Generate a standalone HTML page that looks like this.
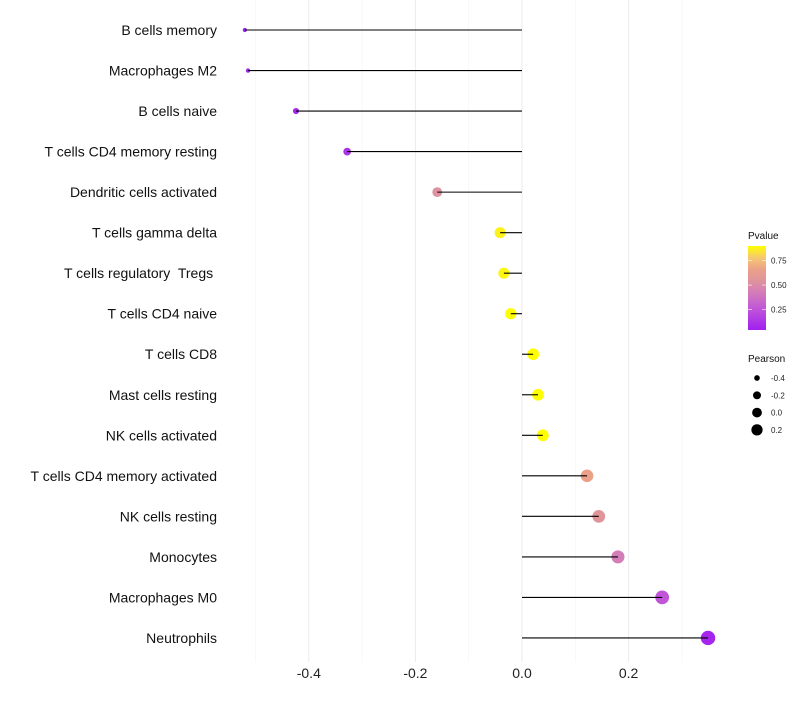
<!DOCTYPE html>
<html><head><meta charset="utf-8"><style>
body{margin:0;background:#fff;font-family:"Liberation Sans",sans-serif}
</style></head><body>
<svg id="c" width="800" height="700" xmlns="http://www.w3.org/2000/svg">
<defs><linearGradient id="pg" x1="0" y1="1" x2="0" y2="0">
<stop offset="0" stop-color="#A020F0"/><stop offset="0.25" stop-color="#C055D8"/><stop offset="0.45" stop-color="#D47DB8"/><stop offset="0.6" stop-color="#E0969A"/><stop offset="0.72" stop-color="#EBA088"/><stop offset="0.86" stop-color="#F5C870"/><stop offset="1" stop-color="#FFFF00"/></linearGradient></defs>
<g id="grid"></g><g id="dots"></g><g id="marks"></g><g id="labels"></g><g id="legend"></g>
</svg>
<script>
const cells=["B cells memory","Macrophages M2","B cells naive","T cells CD4 memory resting","Dendritic cells activated","T cells gamma delta","T cells regulatory  Tregs ","T cells CD4 naive","T cells CD8","Mast cells resting","NK cells activated","T cells CD4 memory activated","NK cells resting","Monocytes","Macrophages M0","Neutrophils"];
const pearson=[-0.52,-0.514,-0.424,-0.328,-0.159,-0.041,-0.034,-0.021,0.021,0.030,0.039,0.122,0.144,0.180,0.263,0.349];
const pvalue=[0.04,0.04,0.06,0.12,0.53,0.87,0.88,0.9,0.9,0.9,0.9,0.66,0.56,0.43,0.255,0.065];
const xticks=[-0.4,-0.2,0.0,0.2];
const xtickLabels=["-0.4","-0.2","0.0","0.2"];
const minorTicks=[-0.5,-0.3,-0.1,0.1,0.3];
const pLegend=[0.25,0.5,0.75];
const sLegend=[-0.4,-0.2,0.0,0.2];
const NS="http://www.w3.org/2000/svg";
const X=v=>522+v*533;
const Y=i=>30+i*40.53;
const R=v=>Math.sqrt(Math.max(1,33+55*v));
const stops=[[0,[160,32,240]],[0.25,[192,85,216]],[0.45,[212,125,184]],[0.6,[224,150,154]],[0.72,[235,160,136]],[0.86,[245,200,112]],[1,[255,255,0]]];
function col(p){const t=Math.min(1,Math.max(0,(p-0.04)/0.86));
for(let i=1;i<stops.length;i++){if(t<=stops[i][0]){const a=stops[i-1],b=stops[i];const f=(t-a[0])/(b[0]-a[0]);
return 'rgb('+a[1].map((x,k)=>Math.round(x+(b[1][k]-x)*f)).join(',')+')';}}return 'rgb(255,255,0)';}
function mk(tag,at,parent){const e=document.createElementNS(NS,tag);for(const k in at)e.setAttribute(k,at[k]);parent.appendChild(e);return e;}
const g=document.getElementById('grid'),dt=document.getElementById('dots'),m=document.getElementById('marks'),l=document.getElementById('labels'),lg=document.getElementById('legend');
minorTicks.forEach(v=>{const e=mk('line',{x1:X(v),x2:X(v),y1:0,y2:662,stroke:'#f4f4f4','stroke-width':0.6},g);

});
xticks.forEach((v,i)=>{const e=mk('line',{x1:X(v),x2:X(v),y1:0,y2:662,stroke:'#ebebeb','stroke-width':1},g);


const t=mk('text',{x:X(v),y:678,'text-anchor':'middle','font-size':14,fill:'#222'},l);t.textContent=xtickLabels[i];

});
cells.forEach((c,i)=>{const y=Y(i);
const d=mk('circle',{cx:X(pearson[i]),cy:y,r:R(pearson[i]),fill:col(pvalue[i])},dt);


const ln=mk('line',{x1:X(0),x2:X(pearson[i]),y1:y,y2:y,stroke:'#000','stroke-width':1.1},m);


const t=mk('text',{x:217,y:y+5,'text-anchor':'end','font-size':14,fill:'#111'},l);t.textContent=c;
t.style.whiteSpace='pre';

});
let t=mk('text',{x:748,y:239,'font-size':10,fill:'#111'},lg);t.textContent='Pvalue';


const bar=mk('rect',{x:748,y:246,width:18,height:84,fill:'url(#pg)'},lg);


pLegend.forEach(p=>{const y=330-(p-0.04)/0.86*84;
mk('line',{x1:748,x2:752,y1:y,y2:y,stroke:'#fff','stroke-width':0.6},lg);
mk('line',{x1:762,x2:766,y1:y,y2:y,stroke:'#fff','stroke-width':0.6},lg);
const tt=mk('text',{x:771,y:y+3,'font-size':8,fill:'#222'},lg);tt.textContent=p.toFixed(2);

});
t=mk('text',{x:748,y:362,'font-size':10,fill:'#111'},lg);t.textContent='Pearson';


sLegend.forEach((v,i)=>{const y=378+i*17.3;
const c=mk('circle',{cx:757,cy:y,r:R(v)*0.85,fill:'#000'},lg);


const tt=mk('text',{x:771,y:y+3,'font-size':8,fill:'#222'},lg);tt.textContent=v.toFixed(1);

});
</script>
</body></html>
